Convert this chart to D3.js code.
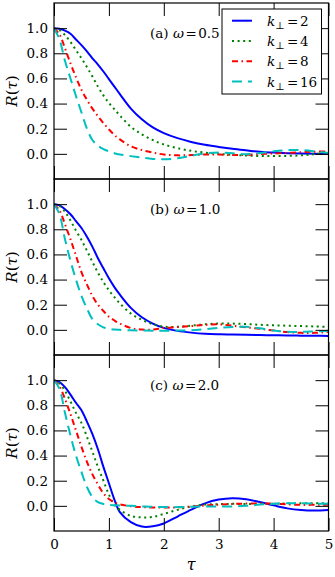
<!DOCTYPE html>
<html><head><meta charset="utf-8">
<script src="https://cdn.jsdelivr.net/npm/d3@7"></script>
<style>
body{margin:0;background:#fff;}
svg{display:block;}
text{font-family:"DejaVu Serif",serif;fill:#000;}
</style></head>
<body>
<svg id="chart" width="335" height="577"></svg>
<script>
const tau = [0,0.1,0.2,0.3,0.4,0.5,0.6,0.7,0.8,0.9,1.0,1.1,1.2,1.4,1.6,1.8,2.0,2.25,2.5,2.75,3.0,3.25,3.5,3.75,4.0,4.25,4.5,4.75,5.0];
const kperp = ["2","4","8","16"];
const panelTags = ["(a)","(b)","(c)"];
const omegas = ["0.5","1.0","2.0"];
const xTicks = [0,1,2,3,4,5];
const yTicks = [0,0.2,0.4,0.6,0.8,1.0];

// panel (a) omega = 0.5
const a_k2  = [1,0.995,0.98,0.955,0.91,0.865,0.815,0.76,0.71,0.655,0.595,0.535,0.475,0.36,0.275,0.21,0.165,0.125,0.095,0.072,0.055,0.04,0.028,0.017,0.01,0.005,0.002,0.0,0.0];
const a_k4  = [1,0.985,0.945,0.89,0.825,0.76,0.69,0.615,0.535,0.465,0.405,0.355,0.305,0.215,0.155,0.11,0.075,0.045,0.024,0.01,0.0,-0.008,-0.013,-0.017,-0.018,-0.016,-0.012,-0.002,0.012];
const a_k8  = [1,0.95,0.84,0.72,0.61,0.51,0.43,0.36,0.3,0.245,0.195,0.15,0.115,0.06,0.03,0.01,-0.005,-0.012,-0.01,-0.005,-0.006,-0.01,-0.008,-0.002,0.003,0.008,0.013,0.017,0.02];
const a_k16 = [1,0.91,0.74,0.6,0.46,0.33,0.2,0.11,0.065,0.038,0.02,0.005,-0.005,-0.018,-0.03,-0.04,-0.043,-0.035,-0.015,0.003,0.01,0.005,-0.003,0.005,0.02,0.03,0.03,0.02,0.006];
// panel (b) omega = 1.0
const b_k2  = [1,0.99,0.96,0.92,0.865,0.81,0.74,0.66,0.57,0.49,0.41,0.34,0.28,0.175,0.1,0.05,0.016,-0.008,-0.022,-0.031,-0.035,-0.037,-0.039,-0.041,-0.043,-0.045,-0.046,-0.047,-0.048];
const b_k4  = [1,0.985,0.94,0.87,0.79,0.715,0.63,0.54,0.455,0.38,0.315,0.26,0.21,0.13,0.08,0.045,0.026,0.024,0.034,0.044,0.05,0.05,0.046,0.04,0.036,0.033,0.03,0.027,0.024];
const b_k8  = [1,0.95,0.84,0.72,0.59,0.46,0.36,0.27,0.2,0.15,0.105,0.075,0.05,0.015,0.002,0.002,0.015,0.022,0.03,0.04,0.044,0.033,0.02,0.008,-0.005,-0.018,-0.024,-0.024,-0.016];
const b_k16 = [1,0.92,0.72,0.55,0.4,0.27,0.17,0.085,0.045,0.02,0.008,0.002,0,-0.003,-0.005,-0.007,-0.008,-0.006,-0.003,0.005,0.015,0.023,0.024,0.012,-0.005,-0.016,-0.016,-0.012,-0.008];
// panel (c) omega = 2.0
const c_k2  = [1,0.985,0.945,0.885,0.82,0.76,0.67,0.57,0.45,0.31,0.18,0.05,-0.05,-0.13,-0.165,-0.163,-0.14,-0.085,-0.03,0.02,0.05,0.061,0.053,0.03,0.004,-0.02,-0.033,-0.037,-0.032];
const c_k4  = [1,0.975,0.915,0.83,0.74,0.66,0.55,0.43,0.31,0.2,0.09,0.01,-0.032,-0.08,-0.092,-0.088,-0.064,-0.032,-0.005,0.01,0.014,0.016,0.015,0.016,0.017,0.019,0.02,0.02,0.02];
const c_k8  = [1,0.95,0.85,0.73,0.6,0.47,0.35,0.25,0.17,0.1,0.055,0.028,0.012,-0.003,-0.01,-0.013,-0.013,-0.012,-0.006,0.003,0.01,0.015,0.018,0.02,0.018,0.012,0.008,0.008,0.008];
const c_k16 = [1,0.93,0.74,0.56,0.4,0.27,0.15,0.07,0.03,0.015,0.008,0.005,0.003,0,-0.004,-0.008,-0.01,-0.01,-0.007,-0.005,-0.005,-0.005,0.0,0.01,0.017,0.02,0.02,0.018,0.016];

const panelSeries = [[a_k2,a_k4,a_k8,a_k16],[b_k2,b_k4,b_k8,b_k16],[c_k2,c_k4,c_k8,c_k16]];

const colors = ["#0000ff","#008000","#ff0000","#00bfbf"];
const dashes = [null,"2,3.6","6,3.5,1.5,3.5","10,6"];

const svg = d3.select("#chart");
const left = 54, right = 328.5, panelH = 176, tops = [3,179,355];
const x = d3.scaleLinear().domain([0,5]).range([left,right]);
const fs = 13.5;

panelTags.forEach((tag,pi)=>{
  const top = tops[pi];
  const y = d3.scaleLinear().domain([-0.2,1.2]).range([top+panelH, top]);
  const g = svg.append("g");
  const clipId = "clip"+pi;
  svg.append("clipPath").attr("id",clipId).append("rect")
    .attr("x",left).attr("y",top).attr("width",right-left).attr("height",panelH);

  const line = d3.line().x((d,i)=>x(tau[i])).y(d=>y(d)).curve(d3.curveCatmullRom.alpha(0.5));
  const lines = g.append("g").attr("clip-path",`url(#${clipId})`);
  panelSeries[pi].forEach((vals,si)=>{
    lines.append("path").datum(vals).attr("d",line)
      .attr("fill","none").attr("stroke",colors[si]).attr("stroke-width",2)
      .attr("stroke-dasharray",dashes[si]).attr("stroke-linecap","butt");
  });

  const yl = g.append("g").attr("transform",`translate(${left},0)`)
    .call(d3.axisLeft(y).tickValues(yTicks).tickSize(-13).tickPadding(6).tickFormat(d3.format(".1f")));
  const yr = g.append("g").attr("transform",`translate(${right},0)`)
    .call(d3.axisRight(y).tickValues(yTicks).tickSize(-13).tickFormat(""));
  const xt = g.append("g").attr("transform",`translate(0,${top})`)
    .call(d3.axisTop(x).tickValues(xTicks).tickSize(-13).tickFormat(""));
  const xb = g.append("g").attr("transform",`translate(0,${top+panelH})`)
    .call(d3.axisBottom(x).tickValues(xTicks).tickSize(-13).tickPadding(8)
      .tickFormat(pi===2 ? d3.format("d") : ""));
  [yl,yr,xt,xb].forEach(a=>{
    a.select(".domain").remove();
    a.selectAll("line").attr("stroke","#000").attr("stroke-width",1);
    a.selectAll("text").style("font-family","DejaVu Serif").style("font-size",fs+"px").attr("fill","#000");
  });

  g.append("rect").attr("x",left).attr("y",top).attr("width",right-left).attr("height",panelH)
    .attr("fill","none").attr("stroke","#000").attr("stroke-width",1.2);

  const ann = g.append("text").attr("x",150).attr("y",top+35).style("font-size",fs+"px");
  ann.append("tspan").text(tag+" ");
  ann.append("tspan").style("font-style","italic").text("ω");
  ann.append("tspan").attr("dx",1.5).text("=");
  ann.append("tspan").attr("dx",1.5).text(omegas[pi]);

  const yc = top + panelH/2;
  const yt = g.append("text").attr("transform",`translate(17,${yc}) rotate(-90)`)
    .attr("text-anchor","middle").style("font-size","15px");
  yt.append("tspan").style("font-style","italic").text("R");
  yt.append("tspan").text("(");
  yt.append("tspan").style("font-style","italic").text("τ");
  yt.append("tspan").text(")");
});

svg.append("text").attr("x",(left+right)/2).attr("y",570).attr("text-anchor","middle")
  .style("font-size","16px").style("font-style","italic").text("τ");

const leg = svg.append("g");
leg.append("rect").attr("x",222).attr("y",9).attr("width",99.5).attr("height",85)
  .attr("fill","#fff").attr("stroke","#000").attr("stroke-width",1);
kperp.forEach((k,i)=>{
  const ly = 20.7 + i*20.3;
  leg.append("line").attr("x1",232).attr("x2",252).attr("y1",ly).attr("y2",ly)
    .attr("stroke",colors[i]).attr("stroke-width",2).attr("stroke-dasharray",dashes[i]);
  const t = leg.append("text").attr("x",267).attr("y",ly+5).style("font-size",fs+"px");
  t.append("tspan").style("font-style","italic").text("k");
  t.append("tspan").attr("dy",3).style("font-size","10px").text("⊥");
  t.append("tspan").attr("dy",-3).attr("dx",2.5).text("=");
  t.append("tspan").attr("dx",1.5).text(k);
});
</script>
</body></html>
